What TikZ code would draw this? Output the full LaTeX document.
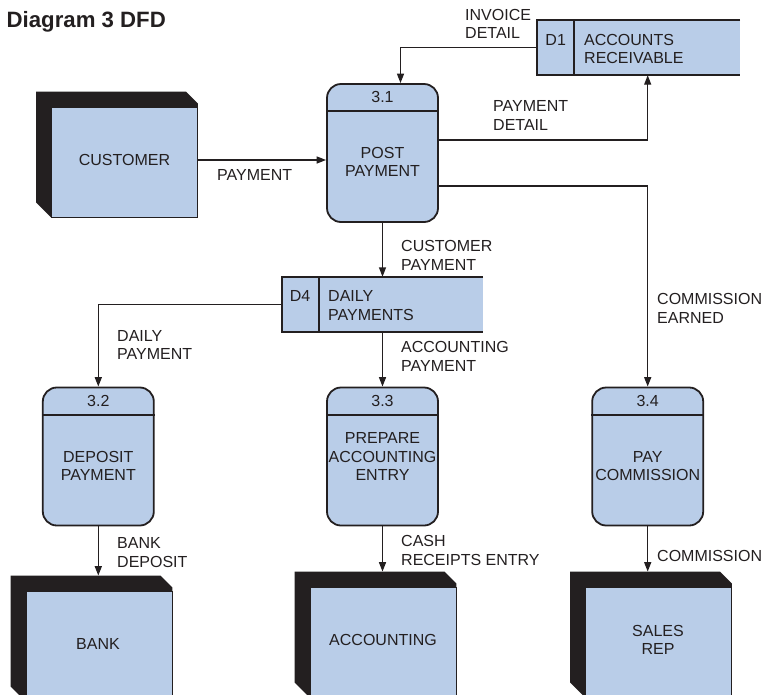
\documentclass[tikz,border=0pt]{standalone}
\usepackage{fontspec}
\setmainfont{Liberation Sans}
\usetikzlibrary{arrows.meta}
\definecolor{ink}{HTML}{231F20}
\definecolor{boxfill}{HTML}{B9CDE8}
\begin{document}
\begin{tikzpicture}[x=1pt,y=-1pt,
  every node/.style={text=ink, font=\fontsize{16}{18.7}\selectfont},
  flow/.style={draw=ink, line width=1.4pt, -{Triangle[length=9.5pt,width=7pt]}},
  process/.style={draw=ink, fill=boxfill, line width=1.8pt, rounded corners=14pt,
    minimum width=111pt, minimum height=138pt, inner sep=0pt},
  entity/.style={draw=ink, fill=boxfill, line width=0.8pt,
    minimum width=146pt, minimum height=110pt, inner sep=0pt},
  shadowfill/.style={fill=ink},
  store/.style={fill=boxfill, minimum height=55pt, inner sep=0pt},
  storeline/.style={draw=ink, line width=1.8pt},
  lbl/.style={anchor=west, align=left, inner sep=0pt},
  txt/.style={align=center, inner sep=0pt}]
\useasboundingbox (0,0) rectangle (763,694);

% title
\node[anchor=base west, inner sep=0pt, font=\fontsize{22.2}{25}\selectfont\bfseries] (title) at (6.5,27.5) {Diagram 3 DFD};

% ---------- external entities (face over a bevelled dark block) ----------
\newcommand{\entityshadow}[1]{%
  \fill[shadowfill] ([shift={(-15pt,15pt)}]#1.north west)
    -- ([shift={(-12pt,15pt)}]#1.north east)
    -- ([yshift=3pt]#1.north east) -- (#1.south east) -- (#1.south west)
    -- ([shift={(-15pt,15pt)}]#1.south west) -- cycle;}
\path node[entity] (customer) at (124.5,162) {}
      node[entity] (bank) at (99,646) {}
      node[entity] (accounting) at (383,642) {}
      node[entity] (salesrep) at (658.5,642) {};
\entityshadow{customer}
\entityshadow{bank}
\entityshadow{accounting}
\entityshadow{salesrep}
\node[entity] at (customer) {};
\node[entity] at (bank) {};
\node[entity] at (accounting) {};
\node[entity] at (salesrep) {};
\node[txt] (customer-t) at (124.5,160) {CUSTOMER};
\node[txt] (bank-t) at (98,644) {BANK};
\node[txt] (accounting-t) at (383,640) {ACCOUNTING};
\node[txt] (salesrep-t) at (658,640) {SALES\\REP};
\coordinate (bank-top) at ([yshift=15pt]bank.north);
\coordinate (accounting-top) at ([yshift=15pt]accounting.north);
\coordinate (salesrep-top) at ([yshift=15pt]salesrep.north);

% ---------- processes ----------
\node[process] (p31) at (382.5,153) {};
\node[process] (p32) at (98.3,456.5) {};
\node[process] (p33) at (382.5,456.5) {};
\node[process] (p34) at (647.7,456.5) {};
\foreach \p in {p31,p32,p33,p34}
  \draw[ink, line width=1.8pt] ([yshift=-28pt]\p.north west) -- ([yshift=-28pt]\p.north east);
\node[txt] (p31-id) at ([yshift=-14pt]p31.north) {3.1};
\node[txt] (p32-id) at ([yshift=-14pt]p32.north) {3.2};
\node[txt] (p33-id) at ([yshift=-14pt]p33.north) {3.3};
\node[txt] (p34-id) at ([yshift=-14pt]p34.north) {3.4};
\node[txt] (p31-t) at (382.5,162) {POST\\PAYMENT};
\node[txt] (p32-t) at (98.3,466) {DEPOSIT\\PAYMENT};
\node[txt] (p33-t) at (382.5,456.5) {PREPARE\\ACCOUNTING\\ENTRY};
\node[txt] (p34-t) at (647.7,466) {PAY\\COMMISSION};

% ---------- data stores (open on the right) ----------
\node[store, minimum width=203pt] (d1) at (638.5,47.5) {};
\node[store, minimum width=201pt] (d4) at (382.5,304.5) {};
\foreach \s in {d1,d4}{
  \draw[storeline] (\s.north east) -- (\s.north west) -- (\s.south west) -- (\s.south east);
  \draw[storeline] ([xshift=37pt]\s.north west) -- ([xshift=37pt]\s.south west);
}
\node[txt] (d1-id) at (555.7,40) {D1};
\node[lbl] (d1-t) at (584,49) {ACCOUNTS\\RECEIVABLE};
\node[txt] (d4-id) at (300,296) {D4};
\node[lbl] (d4-t) at (328,305.5) {DAILY\\PAYMENTS};

% ---------- data flows ----------
\draw[flow] ([yshift=2pt]customer.east) -- ([yshift=2pt]customer.east -| p31.west);
\draw[flow] (d1.west) -| ([xshift=18pt]p31.north);
\draw[flow] ([yshift=13pt]p31.east) -| (p34.north |- d1.south);
\draw[flow] ([yshift=-33pt]p31.east) -| (p34.north);
\draw[flow] (p31.south) -- (d4.north);
\draw[flow] (d4.west) -| (p32.north);
\draw[flow] (d4.south) -- (p33.north);
\draw[flow] (p32.south) -- (p32.south |- bank-top);
\draw[flow] (p33.south) -- (p33.south |- accounting-top);
\draw[flow] (p34.south) -- (p34.south |- salesrep-top);

% ---------- flow labels ----------
\node[lbl] (l-payment) at (217,175) {PAYMENT};
\node[lbl] (l-invoice) at (465,24) {INVOICE\\DETAIL};
\node[lbl] (l-paydetail) at (493,115.5) {PAYMENT\\DETAIL};
\node[lbl] (l-custpay) at (401,255.5) {CUSTOMER\\PAYMENT};
\node[lbl] (l-daily) at (117,345) {DAILY\\PAYMENT};
\node[lbl] (l-acctpay) at (401,356.5) {ACCOUNTING\\PAYMENT};
\node[lbl] (l-earned) at (657,308.5) {COMMISSION\\EARNED};
\node[lbl] (l-bankdep) at (117,552.5) {BANK\\DEPOSIT};
\node[lbl] (l-cash) at (401,550.5) {CASH\\RECEIPTS ENTRY};
\node[lbl] (l-comm) at (657,556) {COMMISSION};
\end{tikzpicture}
\end{document}
